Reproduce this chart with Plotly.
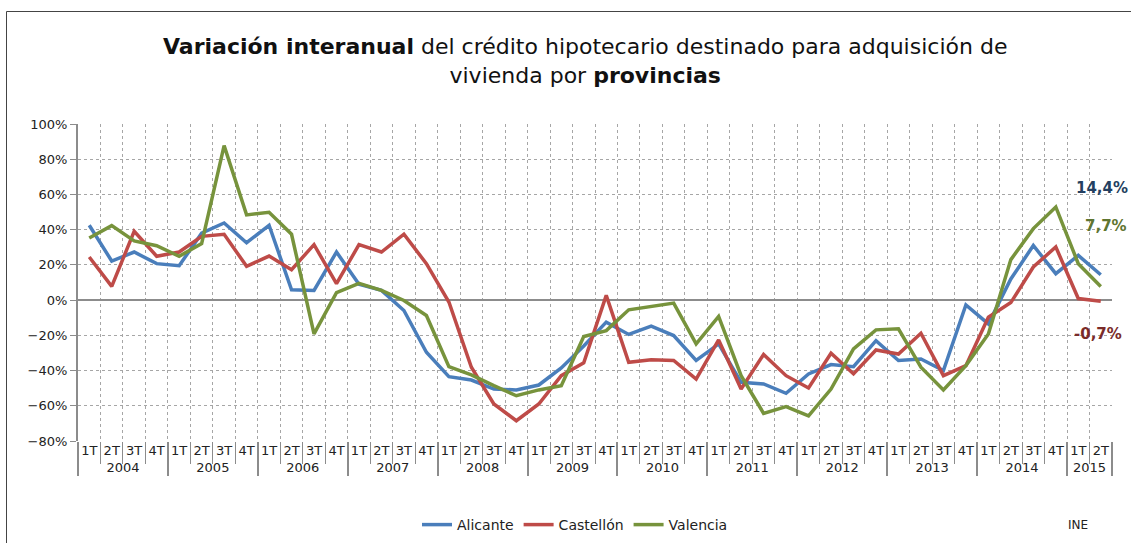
import plotly.graph_objects as go

years = ["2004", "2005", "2006", "2007", "2008", "2009", "2010", "2011",
         "2012", "2013", "2014", "2015"]
quarters = ["1T", "2T", "3T", "4T"]

alicante = [42.5, 22.2, 27.3, 20.7, 19.5, 38.0, 43.8, 32.6, 42.5, 5.9, 5.5, 27.3,
            9.0, 5.5, -5.9, -29.6, -43.5, -45.4, -50.5, -51.0, -48.2, -38.5, -26.0, -12.5,
            -19.5, -14.8, -20.1, -34.3, -24.9, -46.7, -47.6, -52.9, -41.9, -36.6, -37.8, -23.0,
            -34.3, -33.4, -40.0, -2.7, -13.5, 12.0, 31.0, 15.0, 25.4, 14.4]
castellon = [24.5, 7.8, 39.1, 24.9, 27.3, 36.2, 37.4, 19.2, 25.0, 17.3, 31.5, 9.3,
             31.5, 27.3, 37.4, 20.7, -1.1, -38.1, -59.0, -68.5, -59.0, -42.9, -35.6, 2.7,
             -35.3, -33.8, -34.3, -44.8, -22.6, -50.5, -30.9, -42.9, -49.9, -30.2, -41.9, -28.3,
             -30.6, -18.8, -42.9, -37.2, -9.7, -1.4, 18.8, 30.2, 0.9, -0.7]
valencia = [35.3, 42.3, 33.6, 30.9, 24.9, 32.1, 87.7, 48.4, 49.9, 37.4, -19.2, 4.2,
            9.5, 5.5, -0.2, -8.7, -37.8, -42.5, -48.6, -54.3, -51.0, -48.6, -20.7, -17.3,
            -5.5, -3.6, -1.7, -24.9, -9.3, -42.9, -64.3, -60.5, -65.7, -50.5, -27.7, -16.9,
            -16.3, -38.1, -51.0, -37.2, -19.2, 23.0, 40.6, 52.9, 20.7, 7.7]

n = len(alicante)
x_years = [years[i // 4] for i in range(n)]
x_quarters = [quarters[i % 4] for i in range(n)]

FONT = "DejaVu Sans"
L, R, T, B = 78, 19, 124, 102
PW = 1131 - L - R
PH = 543 - T - B


def px(xp):
    return (xp - L) / PW


def py(yp):
    return (543 - B - yp) / PH


fig = go.Figure()
series = [("Alicante", alicante, "#4A7EBB"),
          ("Castellón", castellon, "#BE4B48"),
          ("Valencia", valencia, "#77933C")]
for name, vals, col in series:
    fig.add_trace(go.Scatter(x=[x_years, x_quarters], y=vals, mode="lines", name=name,
                             line=dict(color=col, width=3.5)))

fig.update_layout(
    width=1131, height=543,
    margin=dict(l=L, r=R, t=T, b=B, autoexpand=False),
    paper_bgcolor="white", plot_bgcolor="white",
    font=dict(family=FONT, size=12, color="#222"),
    showlegend=True,
    legend=dict(orientation="h", x=px(575), xanchor="center", y=py(509), yanchor="top",
                font=dict(size=14, color="#222"), traceorder="normal"),
    xaxis=dict(type="multicategory", range=[-0.5, n - 0.5], showgrid=True,
               gridcolor="#A6A6A6", griddash="dot",
               gridwidth=1, tickson="boundaries", ticks="outside", ticklen=22,
               tickcolor="#8C8C8C", showline=False, showdividers=True, tickangle=0,
               dividercolor="#8C8C8C", dividerwidth=2, tickfont=dict(size=13),
               zeroline=False, automargin=False),
    yaxis=dict(range=[-80, 100], dtick=20, ticksuffix="%", showgrid=True,
               gridcolor="#A6A6A6", griddash="dot", gridwidth=1, zeroline=True,
               zerolinecolor="#8C8C8C", zerolinewidth=2, showline=True, linecolor="#8C8C8C",
               linewidth=2, ticks="outside", ticklen=6, tickcolor="#8C8C8C",
               tickfont=dict(size=13), automargin=False),
    annotations=[
        dict(text="<b>Variación interanual</b> del crédito hipotecario destinado para adquisición de"
                  "<br>vivienda por <b>provincias</b>",
             xref="paper", yref="paper", x=px(585), y=py(32),
             xanchor="center", yanchor="top", showarrow=False,
             font=dict(size=22, color="#111", family=FONT)),
        dict(text="<b>14,4%</b>", xref="paper", yref="y", x=px(1102), y=63.5,
             xanchor="center", yanchor="middle", showarrow=False,
             font=dict(size=15, color="#243F60")),
        dict(text="<b>7,7%</b>", xref="paper", yref="y", x=px(1106), y=42,
             xanchor="center", yanchor="middle", showarrow=False,
             font=dict(size=15, color="#5F7530")),
        dict(text="<b>-0,7%</b>", xref="paper", yref="y", x=px(1098), y=-19,
             xanchor="center", yanchor="middle", showarrow=False,
             font=dict(size=15, color="#7A2B29")),
        dict(text="INE", xref="paper", yref="paper", x=px(1078),
             y=py(525), xanchor="center", yanchor="middle", showarrow=False,
             font=dict(size=12, color="#222")),
    ],
    shapes=[
        dict(type="line", xref="paper", yref="paper", x0=px(6.5),
             x1=px(1140), y0=py(11.5), y1=py(11.5),
             line=dict(color="#444", width=1)),
        dict(type="line", xref="paper", yref="paper", x0=px(6.5),
             x1=px(6.5), y0=py(11.5), y1=py(560),
             line=dict(color="#444", width=1)),
    ],
)

fig.write_html("out.html", config={"displayModeBar": False},
               post_script="document.body.style.margin='0';document.body.style.padding='0';")
